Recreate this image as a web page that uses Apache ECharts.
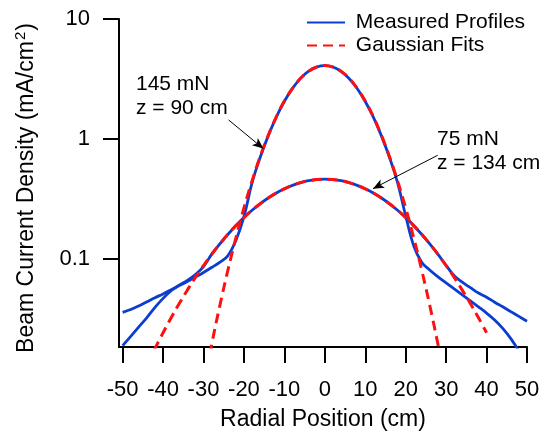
<!DOCTYPE html>
<html>
<head>
<meta charset="utf-8">
<script src="https://cdn.jsdelivr.net/npm/echarts@6/dist/echarts.min.js"></script>
<style>
html, body {margin:0; padding:0; background:#fff;}
#main {width:548px; height:436px;}
</style>
</head>
<body>
<div id="main"></div>
<script>
var FONT = '"Liberation Sans", Arial, sans-serif';

// radial positions (cm)
var xMeasured = [-50,-48,-46,-44,-42,-40,-38,-36,-34,-32,-30,-28,-26,-24,-22,-20,-18,-16,-14,-12,-10,-8,-6,-4,-2,0,
	2,4,6,8,10,12,14,16,18,20,22,24,26,28,30,32,34,36,38,40,42,44,46,48,50];
var xFit145 = [-30,-28,-26,-24,-22,-20,-18,-16,-14,-12,-10,-8,-6,-4,-2,0,2,4,6,8,10,12,14,16,18,20,22,24,26,28,30];
var xFit75 = [-44,-42,-40,-38,-36,-34,-32,-30,-28,-26,-24,-22,-20,-18,-16,-14,-12,-10,-8,-6,-4,-2,0,
	2,4,6,8,10,12,14,16,18,20,22,24,26,28,30,32,34,36,38,40];

// beam current density (mA/cm2)
var meas145 = [0.0358,0.0378,0.0405,0.0438,0.0474,0.051,0.0553,0.0598,0.0648,0.0705,0.077,0.0847,0.0935,0.106,0.142,0.225,0.43,0.70,1.06,1.52,2.06,2.64,3.20,3.67,3.98,4.09,
	3.98,3.66,3.19,2.63,2.05,1.52,1.06,0.70,0.43,0.228,0.128,0.0933,0.0804,0.0708,0.0631,0.0562,0.0501,0.0447,0.0398,0.0353,0.0309,0.0263,0.0216,0.017,0.0129];
var meas75 = [0.0189,0.0226,0.0271,0.0324,0.0394,0.0468,0.0543,0.0603,0.0661,0.0741,0.0861,0.1089,0.1327,0.1596,0.1891,0.2208,0.254,0.2878,0.3215,0.3538,0.3837,0.41,0.4316,0.4479,0.4579,0.4613,
	0.4579,0.4479,0.4316,0.41,0.3837,0.3538,0.3215,0.2878,0.254,0.2208,0.1891,0.1596,0.1327,0.1088,0.088,0.0724,0.0638,0.0575,0.0519,0.0479,0.0435,0.0398,0.0363,0.0331,0.0302];
var fit145 = [0.0087,0.0192,0.0402,0.0796,0.149,0.266,0.446,0.711,1.07,1.53,2.07,2.64,3.20,3.67,3.98,4.09,
	3.98,3.67,3.20,2.64,2.07,1.53,1.07,0.711,0.446,0.266,0.149,0.0796,0.0402,0.0192,0.0087];
var fit75 = [0.013,0.0179,0.0242,0.0323,0.0424,0.0548,0.07,0.0879,0.1088,0.1327,0.1596,0.1891,0.2208,0.254,0.2878,0.3215,0.3538,0.3837,0.41,0.4316,0.4479,0.4579,0.4613,
	0.4579,0.4479,0.4316,0.41,0.3837,0.3538,0.3215,0.2878,0.254,0.2208,0.1891,0.1596,0.1327,0.1088,0.0879,0.07,0.0548,0.0424,0.0323,0.0242];

var xTicks = [-50,-40,-30,-20,-10,0,10,20,30,40,50];
var yTicks = [0.1, 1, 10];

// annotation arrows, [start, tip] in data coords
var arrow145 = [[-23.8, 1.44], [-15.2, 0.83]];
var arrow75 = [[27.9, 0.73], [11.9, 0.385]];

var BLUE = '#0b3ed0';
var RED = '#ff1010';

function pairs(xs, ys){
	var out = new Array();
	for (var i=0; i<xs.length; i++){
		out.push([xs[i], ys[i]]);
	}
	return out;
}

var chart = echarts.init(document.getElementById('main'), null, {renderer:'canvas'});

var option = {
	animation: false,
	backgroundColor: '#fff',
	grid: {left:119, right:21, top:19, bottom:86},
	legend: {
		data: ['Measured Profiles', 'Gaussian Fits'],
		orient: 'vertical',
		left: 306, top: 12,
		padding: 0,
		itemWidth: 38, itemHeight: 14, itemGap: 2,
		itemStyle: {opacity: 0},		// hide the dot the line icon gets
		formatter: function(name){ return ' ' + name; },
		textStyle: {fontSize:21, color:'#000', fontFamily:FONT}
	},
	xAxis: {
		type: 'value',
		min: -50.9, max: 50,
		name: 'Radial Position (cm)',
		nameLocation: 'middle',
		nameGap: 61,
		nameTextStyle: {fontSize:23, color:'#000', fontFamily:FONT},
		axisLine: {show:true, onZero:false, lineStyle:{color:'#000', width:2}},
		axisTick: {show:true, length:16, lineStyle:{color:'#000', width:2}, customValues: xTicks},
		axisLabel: {customValues: xTicks, fontSize:22, color:'#000', fontFamily:FONT, margin:32},
		splitLine: {show:false}
	},
	yAxis: {
		type: 'log',
		logBase: 10,
		min: 0.0184, max: 10,
		name: 'Beam Current Density (mA/cm{sup|2})',
		nameLocation: 'middle',
		nameGap: 79,
		nameTextStyle: {
			fontSize:23, color:'#000', fontFamily:FONT,
			padding: [0, 10, 0, 0],
			rich: {sup: {fontSize:15, color:'#000', fontFamily:FONT, verticalAlign:'top', padding:[0,1,12,1]}}
		},
		axisLine: {show:true, onZero:false, lineStyle:{color:'#000', width:2}},
		axisTick: {show:true, length:16, lineStyle:{color:'#000', width:2}, customValues: yTicks},
		axisLabel: {
			customValues: yTicks, fontSize:22, color:'#000', fontFamily:FONT, margin:29,
			formatter: function(v){ return String(v); }
		},
		minorTick: {show:false},
		splitLine: {show:false}
	},
	series: [
		{
			name: 'Measured Profiles', type: 'line', symbol: 'none', smooth: 0.4,
			data: pairs(xMeasured, meas145),
			lineStyle: {color:BLUE, width:2.8}, itemStyle: {color:BLUE},
			markLine: {
				silent: true, animation: false,
				symbol: ['none', 'arrow'], symbolSize: [7, 11],
				label: {show:false},
				lineStyle: {color:'#000', width:1, type:'solid'},
				itemStyle: {color:'#000'},
				data: [
					[{coord: arrow145[0]}, {coord: arrow145[1]}],
					[{coord: arrow75[0]}, {coord: arrow75[1]}]
				]
			}
		},
		{
			name: 'Measured Profiles', type: 'line', symbol: 'none', smooth: 0.4,
			data: pairs(xMeasured, meas75),
			lineStyle: {color:BLUE, width:2.8}, itemStyle: {color:BLUE}
		},
		{
			name: 'Gaussian Fits', type: 'line', symbol: 'none', smooth: 0.4,
			data: pairs(xFit145, fit145),
			lineStyle: {color:RED, width:3, type:[10, 6]}, itemStyle: {color:RED}
		},
		{
			name: 'Gaussian Fits', type: 'line', symbol: 'none', smooth: 0.4,
			data: pairs(xFit75, fit75),
			lineStyle: {color:RED, width:3, type:[10, 6]}, itemStyle: {color:RED}
		}
	],
	graphic: [
		{type:'text', left:136, top:72, style:{text:'145 mN\nz = 90 cm', fontSize:21, fontFamily:FONT, lineHeight:24, fill:'#000'}},
		{type:'text', left:437, top:127, style:{text:'75 mN\nz = 134 cm', fontSize:21, fontFamily:FONT, lineHeight:24, fill:'#000'}}
	]
};

chart.setOption(option);
</script>
</body>
</html>
